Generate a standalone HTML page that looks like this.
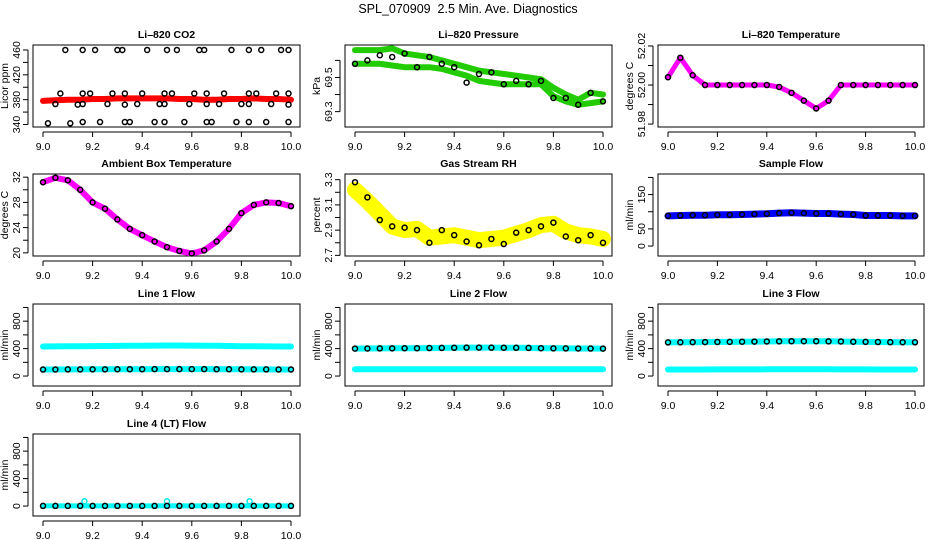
<!DOCTYPE html>
<html><head><meta charset="utf-8">
<style>
html,body{margin:0;padding:0;background:#fff;}
svg{display:block;font-family:"Liberation Sans",sans-serif;}
</style></head>
<body>
<svg id="chart" width="936" height="540" viewBox="0 0 936 540">
<text x="468" y="13" text-anchor="middle" font-size="12.5">SPL_070909&#160; 2.5 Min. Ave. Diagnostics</text>
</svg>
<script>
// shared x positions (hours)
const xs = [9.0,9.05,9.1,9.15,9.2,9.25,9.3,9.35,9.4,9.45,9.5,9.55,9.6,9.65,9.7,9.75,9.8,9.85,9.9,9.95,10.0];
const xTicks = [9.0,9.2,9.4,9.6,9.8,10.0];
const xTickLabels = ["9.0","9.2","9.4","9.6","9.8","10.0"];

// CO2
const co2Red = [378,379,380,380,381,381,382,382,382,382,382,381,381,380,380,381,381,382,381,381,380];
const co2PtX = [9.09,9.16,9.21,9.30,9.32,9.42,9.50,9.54,9.63,9.65,9.76,9.83,9.88,9.96,9.99,
  9.07,9.16,9.19,9.28,9.33,9.40,9.49,9.52,9.61,9.66,9.73,9.83,9.86,9.94,9.99,
  9.05,9.14,9.16,9.26,9.33,9.38,9.47,9.49,9.59,9.66,9.71,9.80,9.83,9.92,9.99,
  9.02,9.11,9.16,9.23,9.33,9.35,9.45,9.49,9.57,9.66,9.68,9.78,9.83,9.90,9.99];
const co2PtY = [460,460,460,460,460,460,460,460,460,460,460,460,460,460,460,
  390,390,390,390,390,390,390,390,390,390,390,390,390,390,390,
  373,372,373,373,372,373,373,373,373,373,373,373,373,373,372,
  342,342,344,344,344,344,344,344,344,344,344,344,344,344,344];
// Pressure
const presUpper = [69.66,69.66,69.66,69.67,69.64,69.63,69.62,69.60,69.58,69.56,69.54,69.53,69.52,69.51,69.50,69.49,69.44,69.40,69.37,69.41,69.40];
const presLower = [69.58,69.58,69.58,69.57,69.56,69.56,69.56,69.55,69.53,69.51,69.48,69.47,69.46,69.46,69.46,69.46,69.39,69.36,69.34,69.35,69.36];
const presBlack = [69.58,69.60,69.63,69.62,69.64,69.56,69.62,69.58,69.56,69.47,69.52,69.53,69.46,69.48,69.46,69.48,69.38,69.38,69.34,69.41,69.36];
// Li-820 temperature
const tempLi = [52.004,52.014,52.005,52.0,52.0,52.0,52.0,52.0,52.0,51.999,51.996,51.992,51.988,51.992,52.0,52.0,52.0,52.0,52.0,52.0,52.0];
// Ambient box temperature
const ambTemp = [31.2,31.9,31.5,30.0,28.0,27.0,25.3,23.8,22.8,21.8,20.9,20.3,19.9,20.4,21.8,23.8,26.3,27.6,28.0,27.9,27.4];
// Gas stream RH
const gasRH = [3.22,3.13,3.03,2.93,2.90,2.91,2.84,2.85,2.86,2.84,2.82,2.83,2.84,2.87,2.90,2.94,2.95,2.89,2.86,2.85,2.83];
const gasRHBlack = [3.28,3.16,2.98,2.93,2.92,2.90,2.80,2.90,2.86,2.81,2.78,2.83,2.79,2.88,2.90,2.93,2.96,2.85,2.82,2.86,2.80];
// Sample flow
const sampleFlow = [88,89,90,90,91,91,92,93,94,96,97,96,95,95,93,92,89,89,89,88,88];
// Line flows
const line1High = [430,432,434,435,437,438,440,442,443,444,445,445,444,443,442,438,434,433,432,431,430];
const line1Low = [95,96,97,97,98,98,99,100,100,101,101,101,101,101,100,99,98,97,97,96,96];
const line2High = [400,402,403,404,405,406,408,410,412,414,415,414,413,412,410,406,404,403,402,401,400];
const line2Low = [98,98,98,98,98,98,99,99,99,99,99,99,99,99,99,99,98,98,98,98,98];
const line3High = [490,492,494,495,497,498,500,502,504,506,508,508,507,506,504,500,498,496,494,493,492];
const line3Low = [96,96,96,96,97,97,97,97,98,98,98,98,98,98,97,97,97,96,96,96,96];
const line4Flow = [2,2,2,2,2,2,2,2,2,2,2,2,2,2,2,2,2,2,2,2,2];
const line4SpikeX = [9.167,9.5,9.833];
const line4SpikeY = [70,70,70];

const svg = document.getElementById('chart');
const NS = 'http://www.w3.org/2000/svg';
const cols = [[33,300],[345,612],[658,924]];
const rows = [45,174,304,434];
const H = 82;

function mk(tag, attrs, parent){
  const e = document.createElementNS(NS, tag);
  for (const k in attrs) e.setAttribute(k, attrs[k]);
  (parent||svg).appendChild(e);
  return e;
}

function panel(key, title, ylab, c, r, ymin, ymax, yTicks, yLabels){
  const L = cols[c][0], R = cols[c][1], T = rows[r], B = T + H;
  const g = mk('g', {});
  
  
  const xf = v => L + 10 + (v - 9) * (R - L - 19);
  const yf = v => B - (v - ymin) / (ymax - ymin) * H;
  const t = mk('text', {x:(L+R)/2, y:T-7, 'text-anchor':'middle', 'font-size':'10.5', 'font-weight':'bold'}, g);
  t.textContent = title;
  
  
  const box = mk('rect', {x:L, y:T, width:R-L, height:H, fill:'none', stroke:'#000', 'stroke-width':1}, g);
  
  
  const xa = mk('g', {}, g);
  
  
  mk('line', {x1:xf(9), x2:xf(10), y1:B+5, y2:B+5, stroke:'#000'}, xa);
  xTicks.forEach((v,i) => {
    mk('line', {x1:xf(v), x2:xf(v), y1:B+5, y2:B+10, stroke:'#000'}, xa);
    const tl = mk('text', {x:xf(v), y:B+23, 'text-anchor':'middle', 'font-size':'10.5'}, xa);
    tl.textContent = xTickLabels[i];
  });
  const ya = mk('g', {}, g);
  
  
  mk('line', {x1:L-5, x2:L-5, y1:yf(yTicks[0]), y2:yf(yTicks[yTicks.length-1]), stroke:'#000'}, ya);
  yTicks.forEach(v => {
    mk('line', {x1:L-10, x2:L-5, y1:yf(v), y2:yf(v), stroke:'#000'}, ya);
  });
  yLabels.forEach(v => {
    const yy = yf(parseFloat(v));
    const tl = mk('text', {x:L-13, y:yy, 'text-anchor':'middle', 'font-size':'10.5', transform:`rotate(-90 ${L-13} ${yy})`}, ya);
    tl.textContent = v;
  });
  const yl = mk('text', {x:L-25, y:(T+B)/2, 'text-anchor':'middle', 'font-size':'10.5', transform:`rotate(-90 ${L-25} ${(T+B)/2})`}, g);
  yl.textContent = ylab;
  
  
  return {g, xf, yf};
}

function band(p, name, xv, yv, color, w){
  const pts = xv.map((x,i) => p.xf(x).toFixed(1) + ',' + p.yf(yv[i]).toFixed(1)).join(' ');
  const pl = mk('polyline', {points:pts, fill:'none', stroke:color, 'stroke-width':w, 'stroke-linejoin':'round', 'stroke-linecap':'round'}, p.g);
  
  
}
function pts(p, name, xv, yv, color){
  const gg = mk('g', {}, p.g);
  
  
  xv.forEach((x,i) => {
    mk('circle', {cx:p.xf(x), cy:p.yf(yv[i]), r:2.5, fill:'none', stroke:color, 'stroke-width':1.5}, gg);
  });
}

let p;
p = panel('co2', 'Li\u2013820 CO2', 'Licor ppm', 0, 0, 336, 468, [340,360,380,400,420,440,460], ['340','380','420','460']);
band(p, 'co2-red-series', xs, co2Red, '#ff0000', 6);
pts(p, 'co2-black-points', co2PtX, co2PtY, '#000');

p = panel('pressure', 'Li\u2013820 Pressure', 'kPa', 1, 0, 69.21, 69.69, [69.3,69.4,69.5,69.6], ['69.3','69.5']);
band(p, 'pressure-upper-band', xs, presUpper, '#22cc00', 6);
band(p, 'pressure-lower-band', xs, presLower, '#22cc00', 6);
pts(p, 'pressure-black-points', xs, presBlack, '#000');

p = panel('li820-temp', 'Li\u2013820 Temperature', 'degrees C', 2, 0, 51.9785, 52.0205, [51.98,51.99,52.00,52.01,52.02], ['51.98','52.00','52.02']);
band(p, 'li820-temp-magenta-band', xs, tempLi, '#ff00ff', 5);
pts(p, 'li820-temp-black-points', xs, tempLi, '#000');

p = panel('ambient', 'Ambient Box Temperature', 'degrees C', 0, 1, 19.5, 32.5, [20,22,24,26,28,30,32], ['20','24','28','32']);
band(p, 'ambient-magenta-band', xs, ambTemp, '#ff00ff', 6);
pts(p, 'ambient-black-points', xs, ambTemp, '#000');

p = panel('rh', 'Gas Stream RH', 'percent', 1, 1, 2.695, 3.345, [2.7,2.8,2.9,3.0,3.1,3.2,3.3], ['2.7','2.9','3.1','3.3']);
band(p, 'rh-yellow-band', xs, gasRH, '#ffff00', 16);
pts(p, 'rh-black-points', xs, gasRHBlack, '#000');

p = panel('sample-flow', 'Sample Flow', 'ml/min', 2, 1, -29, 210, [0,50,100,150,200], ['0','50','150']);
band(p, 'sample-flow-blue-band', xs, sampleFlow, '#0000ff', 7);
pts(p, 'sample-flow-black-points', xs, sampleFlow, '#000');

p = panel('line1', 'Line 1 Flow', 'ml/min', 0, 2, -145, 1050, [0,200,400,600,800,1000], ['0','400','800']);
band(p, 'line1-cyan-high', xs, line1High, '#00ffff', 6);
band(p, 'line1-cyan-low', xs, line1Low, '#00ffff', 6);
pts(p, 'line1-black-points', xs, line1Low, '#000');

p = panel('line2', 'Line 2 Flow', 'ml/min', 1, 2, -145, 1050, [0,200,400,600,800,1000], ['0','400','800']);
band(p, 'line2-cyan-high', xs, line2High, '#00ffff', 6);
band(p, 'line2-cyan-low', xs, line2Low, '#00ffff', 6);
pts(p, 'line2-black-points', xs, line2High, '#000');

p = panel('line3', 'Line 3 Flow', 'ml/min', 2, 2, -145, 1050, [0,200,400,600,800,1000], ['0','400','800']);
band(p, 'line3-cyan-high', xs, line3High, '#00ffff', 6);
band(p, 'line3-cyan-low', xs, line3Low, '#00ffff', 6);
pts(p, 'line3-black-points', xs, line3High, '#000');

p = panel('line4', 'Line 4 (LT) Flow', 'ml/min', 0, 3, -145, 1050, [0,200,400,600,800,1000], ['0','400','800']);
band(p, 'line4-cyan-band', xs, line4Flow, '#00ffff', 5);
pts(p, 'line4-cyan-spikes', line4SpikeX, line4SpikeY, '#00e5e5');
pts(p, 'line4-black-points', xs, line4Flow, '#000');
</script>
</body></html>
